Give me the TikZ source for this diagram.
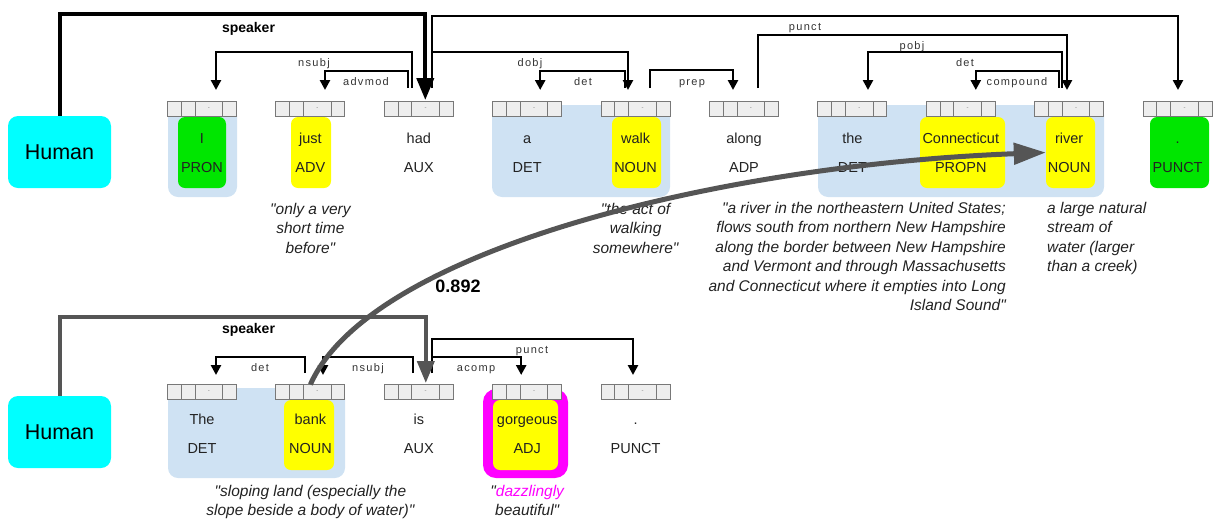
\documentclass[tikz,border=0pt]{standalone}
\usepackage{fontspec}
\setmainfont{Liberation Sans}[Ligatures=TeXOff]
\newfontfamily\arcfont[LetterSpace=12]{Liberation Sans}
\usetikzlibrary{arrows.meta, positioning, calc}

\definecolor{humancyan}{RGB}{0,255,255}
\definecolor{hlgreen}{RGB}{0,230,0}
\definecolor{hlyellow}{RGB}{255,255,0}
\definecolor{hlmagenta}{RGB}{255,0,255}
\definecolor{chunkblue}{RGB}{207,226,243}
\definecolor{barfill}{RGB}{238,238,238}
\definecolor{barline}{RGB}{120,120,120}
\definecolor{simgray}{RGB}{85,85,85}
\definecolor{txt}{RGB}{34,34,34}

\tikzset{
  tokbar/.style={draw=barline, fill=barfill, line width=1pt, minimum width=69pt,
    minimum height=15pt, inner sep=0pt, outer sep=0pt,
    path picture={
      \foreach \f in {0.2,0.4,0.8}
        \draw[barline, line width=1pt]
          ($(path picture bounding box.south west)!\f!(path picture bounding box.south east)$) -- ++(0pt,15pt);
      \node[font=\fontsize{6}{6}\selectfont, text=gray, inner sep=0pt]
        at ($(path picture bounding box.center)+(6.9pt,0pt)$) {-};
    }},
  tokword/.style={font=\fontsize{14.5}{17}\selectfont, text=txt, inner sep=0pt, anchor=base},
  chunk/.style={fill=chunkblue, rounded corners=10pt, inner sep=0pt},
  hl/.style={rounded corners=7pt, inner sep=0pt},
  human/.style={fill=humancyan, rounded corners=10pt, minimum width=103pt, minimum height=72pt,
    inner sep=0pt, font=\fontsize{21.5}{24}\selectfont},
  deparc/.style={line width=2.5pt, -{Triangle[length=10pt,width=10pt]}},
  arclbl/.style={font=\arcfont\fontsize{11}{13}\selectfont, text=black!80, inner sep=0pt, anchor=base},
  spkarrow/.style={line width=4pt, -{Triangle[length=22pt,width=17pt]}},
  spklbl/.style={font=\bfseries\fontsize{14}{16}\selectfont, inner sep=0pt, anchor=base},
  gloss/.style={font=\fontsize{15.5}{19.5}\selectfont\itshape, text=txt, inner sep=0pt, anchor=north},
}

\begin{document}
\begin{tikzpicture}[x=1pt, y=-1pt]
\useasboundingbox (0,0) rectangle (1213,520);

% Noun chunks
\node[chunk, minimum width=69pt, minimum height=92pt] (bgI) at (202.5,151) {};
\node[chunk, minimum width=178pt, minimum height=92pt] (bgwalk) at (581,151) {};
\node[chunk, minimum width=286pt, minimum height=92pt] (bgriver) at (961,151) {};
\node[chunk, minimum width=177pt, minimum height=90pt] (bgbank) at (256.5,433) {};

% Highlighted tokens
\node[hl, fill=hlgreen, minimum width=48pt, minimum height=71pt] (hI) at (202,152.5) {};
\node[hl, fill=hlyellow, minimum width=40pt, minimum height=71pt] (hjust) at (311,152.5) {};
\node[hl, fill=hlyellow, minimum width=49pt, minimum height=71pt] (hwalk) at (636.5,152.5) {};
\node[hl, fill=hlyellow, minimum width=85pt, minimum height=71pt] (hconn) at (962.5,152.5) {};
\node[hl, fill=hlyellow, minimum width=49pt, minimum height=71pt] (hriver) at (1070.5,152.5) {};
\node[hl, fill=hlgreen, minimum width=59pt, minimum height=71pt] (hdot) at (1179.5,152.5) {};
\node[hl, fill=hlyellow, minimum width=50pt, minimum height=70pt] (hbank) at (309,435) {};
\node[hl, fill=hlmagenta, rounded corners=13pt, minimum width=85pt, minimum height=89pt] (hgorgring) at (525.5,433.5) {};
\node[hl, fill=hlyellow, minimum width=65pt, minimum height=70pt] (hgorg) at (525.5,435) {};

% Token bars
\foreach \n/\x in {I/202,just/310.4,had/418.8,a/527.2,walk/635.6,along/744,the/852.4,conn/960.8,river/1069.2,tdot/1177.6}
  \node[tokbar] (\n) at (\x,108.5) {};
\foreach \n/\x in {The/202,bank/310.4,is/418.8,gorg/527.2,bdot/635.6}
  \node[tokbar] (\n) at (\x,392) {};

% Words and tags
\foreach \x/\w/\p [count=\i] in {202/I/PRON, 310.4/just/ADV, 418.8/had/AUX, 527.2/a/DET,
    635.6/walk/NOUN, 744/along/ADP, 852.4/the/DET, 960.8/Connecticut/PROPN,
    1069.2/river/NOUN, 1177.6/./PUNCT} {
  \node[tokword] (w\i) at (\x,143.5) {\w};
  \node[tokword] (p\i) at (\x,172.5) {\p};
}
\foreach \x/\w/\p [count=\i] in {202/The/DET, 310.4/bank/NOUN, 418.8/is/AUX,
    527.2/gorgeous/ADJ, 635.6/./PUNCT} {
  \node[tokword] (bw\i) at (\x,424.5) {\w};
  \node[tokword] (bp\i) at (\x,453.5) {\p};
}

% Speakers
\node[human] (hum1) at (59.5,152) {Human};
\node[human] (hum2) at (59.5,432) {Human};

% Dependency arcs, first sentence
\draw[deparc] ([xshift=-6.8pt,yshift=13pt]had.north) -- ++(0,-36) -| ([xshift=14pt,yshift=11pt]I.north);
\draw[deparc] ([xshift=-10.8pt,yshift=13pt]had.north) -- ++(0,-17) -| ([xshift=14.6pt,yshift=11pt]just.north);
\draw[deparc] ([xshift=13.2pt,yshift=13pt]had.north) -- ++(0,-36) -| ([xshift=-7.6pt,yshift=11pt]walk.north);
\draw[deparc] ([xshift=13.2pt,yshift=13pt]had.north) -- ++(0,-72) -| ([xshift=0.4pt,yshift=11pt]tdot.north);
\draw[deparc] ([xshift=-10.6pt,yshift=13pt]walk.north) -- ++(0,-17) -| ([xshift=13pt,yshift=11pt]a.north);
\draw[deparc] ([xshift=14.4pt,yshift=13pt]walk.north) -- ++(0,-18) -| ([xshift=-11pt,yshift=11pt]along.north);
\draw[deparc] ([xshift=14pt,yshift=13pt]along.north) -- ++(0,-53) -| ([xshift=-2.2pt,yshift=11pt]river.north);
\draw[deparc] ([xshift=-7.2pt,yshift=13pt]river.north) -- ++(0,-36) -| ([xshift=15.6pt,yshift=11pt]the.north);
\draw[deparc] ([xshift=-10.2pt,yshift=13pt]river.north) -- ++(0,-17) -| ([xshift=15pt,yshift=11pt]conn.north);

\node[arclbl] (lnsubj) at (314,66.5) {nsubj};
\node[arclbl] (ladvmod) at (366,85.5) {advmod};
\node[arclbl] (ldobj) at (530,66.5) {dobj};
\node[arclbl] (lpunct) at (805,30.5) {punct};
\node[arclbl] (ldet) at (583,85.5) {det};
\node[arclbl] (lprep) at (692,85) {prep};
\node[arclbl] (lpobj) at (912,49.5) {pobj};
\node[arclbl] (ldet2) at (965,66.5) {det};
\node[arclbl] (lcompound) at (1017,85.5) {compound};

% Dependency arcs, second sentence
\draw[deparc] ([xshift=-5.4pt,yshift=11.5pt]bank.north) -- ++(0,-16) -| ([xshift=14pt,yshift=9.5pt]The.north);
\draw[deparc] ([xshift=-5.8pt,yshift=11.5pt]is.north) -- ++(0,-16) -| ([xshift=12.6pt,yshift=9.5pt]bank.north);
\draw[deparc] ([xshift=13.2pt,yshift=11.5pt]is.north) -- ++(0,-16) -| ([xshift=-6pt,yshift=9.5pt]gorg.north);
\draw[deparc] ([xshift=13.2pt,yshift=11.5pt]is.north) -- ++(0,-34) -| ([xshift=-2.6pt,yshift=9.5pt]bdot.north);

\node[arclbl] (bldet) at (260,371.5) {det};
\node[arclbl] (blnsubj) at (368,371.5) {nsubj};
\node[arclbl] (blacomp) at (476,371.5) {acomp};
\node[arclbl] (blpunct) at (532,353.5) {punct};

% Speaker links
\draw[spkarrow] (hum1.north) -- ++(0,-102) -| ([xshift=6.5pt,yshift=1pt]had.north);
\node[spklbl] (spk1) at (248.5,32) {speaker};
\draw[spkarrow, simgray] (hum2.north) -- ++(0,-79) -| ([xshift=7pt,yshift=1.5pt]is.north);
\node[spklbl] (spk2) at (248.5,333.5) {speaker};

% Glosses
\node[gloss, align=center] (g1) at (310.4,203) {"only a very\\short time\\before"};
\node[gloss, align=center] (g2) at (635.6,203) {"the act of\\walking\\somewhere"};
\node[gloss, align=right, anchor=north east] (g3) at (1006,202)
  {"a river in the northeastern United States;\\flows south from northern New Hampshire\\along the border between New Hampshire\\and Vermont and through Massachusetts\\and Connecticut where it empties into Long\\Island Sound"};
\node[gloss, align=left, anchor=north west] (g4) at (1047,202)
  {a large natural\\stream of\\water (larger\\than a creek)};
\node[gloss, align=center] (g5) at (310.4,485) {"sloping land (especially the\\slope beside a body of water)"};
\node[gloss, align=center] (g6) at (527.2,485) {"\textcolor{hlmagenta}{dazzlingly}\\beautiful"};

% Similarity link
\draw[simgray, line width=5pt, -{Triangle[length=32pt,width=21pt]}]
  (bank.north) .. controls (370,250) and (720,165) .. (hriver.west);
\node[font=\bfseries\fontsize{18}{20}\selectfont, inner sep=0pt] (sim) at (458,286) {0.892};

\end{tikzpicture}
\end{document}
